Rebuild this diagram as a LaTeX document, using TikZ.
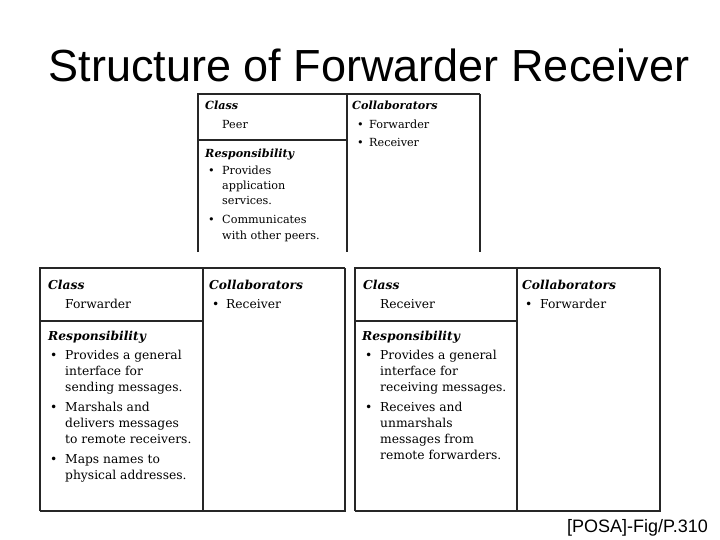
\documentclass[tikz,border=0pt]{standalone}
\usepackage{fontspec}
\setmainfont{DejaVu Serif}
\newfontfamily\arialf{Liberation Sans}
\begin{document}
\begin{tikzpicture}[x=1pt,y=-1pt,
  t/.style={anchor=base west,inner sep=0pt,font=\fontsize{12.3}{15}\selectfont},
  ts/.style={anchor=base west,inner sep=0pt,font=\fontsize{11.2}{14}\selectfont},
  h/.style={t,font=\fontsize{12.3}{15}\selectfont\bfseries\itshape},
  hs/.style={ts,font=\fontsize{11.2}{14}\selectfont\bfseries\itshape},
  card/.style={line width=1.2pt,draw=black!85},
  shade/.style={line width=2.2pt,draw=black!85}]
\useasboundingbox (0,0) rectangle (720,540);
\node[anchor=base,inner sep=0pt,font=\arialf\fontsize{45}{50}\selectfont] (title) at (369,82) {Structure of Forwarder Receiver};
\node[anchor=base east,inner sep=0pt,font=\arialf\fontsize{18}{20}\selectfont] (foot) at (708,532) {[POSA]-Fig/P.310};
% top card
\draw[card] (198,252) -- (198,94) -- (480,94);
\draw[shade] (480,94) -- (480,252);
\draw[card] (198,140) -- (347,140);
\draw[card] (347,94) -- (347,252);
\node[hs] (pc) at (205,110) {Class};
\node[ts] (pn) at (222,129) {Peer};
\node[hs] (pcol) at (352,110) {Collaborators};
\node[ts] (pb1) at (357,129) {\textbullet}; \node[ts] (pc1) at (369,129) {Forwarder};
\node[ts] (pb2) at (357,147) {\textbullet}; \node[ts] (pc2) at (369,147) {Receiver};
\node[hs] (pr) at (205,158) {Responsibility};
\node[ts] (pr1) at (208,175) {\textbullet};
\node[ts] (pt1) at (222,175) {Provides}; \node[ts] (pt2) at (222,190) {application}; \node[ts] (pt3) at (222,205) {services.};
\node[ts] (pr2) at (208,224) {\textbullet};
\node[ts] (pt4) at (222,224) {Communicates}; \node[ts] (pt5) at (222,240) {with other peers.};
% left card
\draw[card] (40,511) -- (40,268) -- (345,268);
\draw[shade] (345,268) -- (345,511) -- (40,511);
\draw[card] (40,321) -- (203,321);
\draw[card] (203,268) -- (203,511);
\node[h] (fc) at (48,289) {Class};
\node[t] (fn) at (65,308) {Forwarder};
\node[h] (fcol) at (209,289) {Collaborators};
\node[t] (fb1) at (212,308) {\textbullet}; \node[t] (fc1) at (226,308) {Receiver};
\node[h] (fr) at (48,340) {Responsibility};
\node[t] (fb2) at (50,359) {\textbullet};
\node[t] (f1) at (65,359) {Provides a general};
\node[t] (f2) at (65,375) {interface for};
\node[t] (f3) at (65,391) {sending messages.};
\node[t] (fb3) at (50,411) {\textbullet};
\node[t] (f4) at (65,411) {Marshals and};
\node[t] (f5) at (65,427) {delivers messages};
\node[t] (f6) at (65,443) {to remote receivers.};
\node[t] (fb4) at (50,463) {\textbullet};
\node[t] (f7) at (65,463) {Maps names to};
\node[t] (f8) at (65,479) {physical addresses.};
% right card
\draw[card] (355,511) -- (355,268) -- (660,268);
\draw[shade] (660,268) -- (660,511) -- (355,511);
\draw[card] (355,321) -- (517,321);
\draw[card] (517,268) -- (517,511);
\node[h] (rc) at (363,289) {Class};
\node[t] (rn) at (380,308) {Receiver};
\node[h] (rcol) at (522,289) {Collaborators};
\node[t] (rb1) at (525,308) {\textbullet}; \node[t] (rc1) at (540,308) {Forwarder};
\node[h] (rr) at (362,340) {Responsibility};
\node[t] (rb2) at (365,359) {\textbullet};
\node[t] (r1) at (380,359) {Provides a general};
\node[t] (r2) at (380,375) {interface for};
\node[t] (r3) at (380,391) {receiving messages.};
\node[t] (rb3) at (365,411) {\textbullet};
\node[t] (r4) at (380,411) {Receives and};
\node[t] (r5) at (380,427) {unmarshals};
\node[t] (r6) at (380,443) {messages from};
\node[t] (r7) at (380,459) {remote forwarders.};
\end{tikzpicture}
\end{document}
